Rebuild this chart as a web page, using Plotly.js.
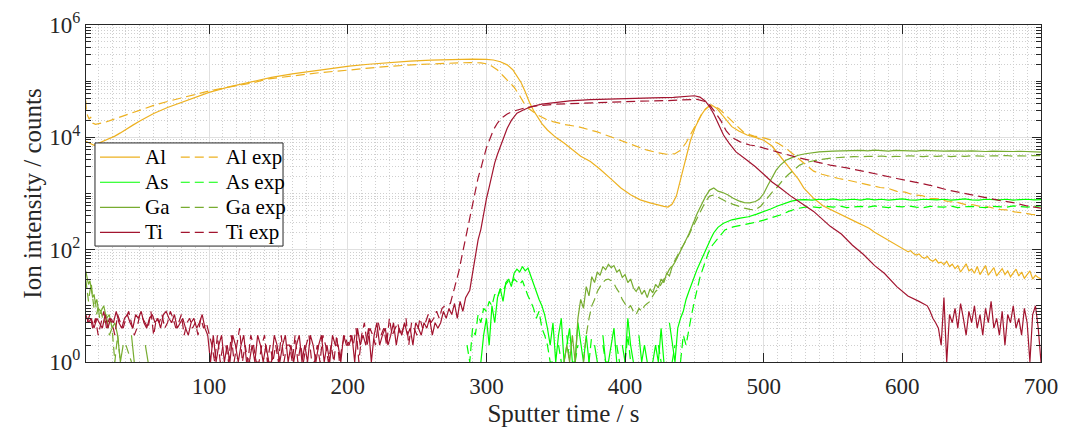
<!DOCTYPE html>
<html><head><meta charset="utf-8">
<script src="https://cdn.plot.ly/plotly-3.0.1.min.js"></script>
<style>html,body{margin:0;padding:0;background:#fff}#chart{width:1072px;height:430px}</style>
</head><body><div id="chart"></div>
<script>
// regular sampling grid for the stretches read at 2 s / 5 s steps
function grid(t0, dt, n) { var a = []; for (var i = 0; i < n; i++) a.push(+(t0 + i * dt).toFixed(2)); return a; }

// ---------- Al ----------
var alT = [11,13,15,17,19,22,25,28,32,36,40,45,50,55,60,70,80,90,100,115,130,145,160,175,190,201,215,230,245,260,275,290,300,305,310,315,319,322,325,328,331,334,337,340,344,350,356,362,368,375,382,390,397,404,411,418,424,428,431,434,437,440,443,447,451,455,458,462,466,469,473,477,482,488,494,500,506,512,516,520,525,529,536,543,548,552,556,560,564,568,572,576,580,584,588,592,596];
var alV = [8500,8000,7500,7200,7600,8200,8700,9400,10500,12000,14000,16500,19500,23000,26500,34000,42000,52000,63000,80000,98000,117000,135000,152000,170000,185000,200000,215000,228000,237000,243000,246000,245000,238000,222000,195000,160000,125000,95000,65000,42000,30000,23000,17500,13500,10000,7900,6000,4600,3700,2700,1800,1250,950,770,680,620,590,575,650,900,1740,3500,8500,16000,25000,32000,38000,33000,27000,20000,15500,13000,11000,10000,8900,7000,4600,3400,2600,1800,1250,820,600,520,460,410,365,330,300,270,240,205,180,155,135,118];
var alTailT0 = 600, alTailStep = 2;
var alTailV = [105,98,92,96,85,80,84,74,70,76,66,62,68,58,60,54,62,50,55,46,52,40,48,56,42,45,38,50,36,44,52,35,42,48,34,40,46,36,42,33,38,45,34,40,31,36,42,30,35,32,30];

var alExpT = [11,11.5,12.5,13.5,14.5,16,18,21,25,30,40,50,60,70,80,90,100,115,130,143,160,180,201,225,250,270,288,296,300,304,308,312,316,320,324,327,331,337,343,348,356,366,380,392,404,416,424,430,436,440,444,448,452,456,460,464,468,474,480,486,493,500,505,510,516,520,524,530,536,542,548,554,560,566,572,578,584,590,596,602,608,614,620,626,633,639,645,651,657,663,669,675,681,687,693,700];
var alExpV = [45000,28000,24000,21000,23000,18000,17000,17500,18500,20500,25000,30500,37000,43500,50500,58500,67000,79000,92000,110000,125000,142000,158000,180000,198000,208000,215000,212000,204000,185000,158000,125000,100000,78000,55000,41000,32000,25000,21000,19000,17000,15500,12500,9700,7600,5900,5300,5000,5100,5900,8000,12000,19000,28000,35000,36500,32000,23000,16000,12000,10500,9800,9000,7900,6400,5300,4500,3300,2500,2200,2000,1850,1740,1600,1480,1380,1280,1230,1090,1060,940,920,820,800,720,700,640,630,580,570,520,510,470,455,425,410];

// ---------- As ----------
var asHumpT0 = 296, asHumpStep = 2;
var asHumpV = [1,3,6,2,10,5,14,20,12,26,30,22,38,45,40,50,42,47,34,24,18,13,10,7,4,2];
var asLowT0 = 348, asLowStep = 2;
var asLowV = [5,1,3,6,1,2,4,1,1,5,2,1,3,1,0,2,1,0,3,1,1,2,4,1,0,2,1,6,2,1,0,3,1,2,1,0,1,2,1,4,1,0,5,2,1,4,6];
var asRiseT = [442,444,446,448,450,452,454,456,458,460,462,464,467,471,477,483,489,495,500,505,510,515,520,525];
var asRiseV = [8,13,18,25,33,45,58,75,100,125,160,200,250,295,340,365,385,430,470,530,600,670,730,770];
var asFlatT0 = 530, asFlatStep = 5;
var asFlatV = [780,760,790,770,800,760,780,790,760,800,770,790,760,780,800,770,760,790,780,770,790,760,780,800,770,760,790,780,770,790,760,780,790,770,780];

var asExpHumpT0 = 286, asExpHumpStep = 2;
var asExpHumpV = [2,1,4,3,7,5,9,8,12,10,16,14,20,18,24,28,25,30,27,24,28,20,15,12,9,6,8,4,3,2,1];
var asExpLowT0 = 348, asExpLowStep = 2;
var asExpLowV = [1,0,2,1,0,3,1,0,1,2,0,1,0,1,3,0,1,0,2,1,0,1,0,2,1,0,1,3,1,0,1,0,2,0,1,0,1,0,2,1,0,1,0,1,2,0,1,3,2];
var asExpRiseT = [446,448,450,452,454,456,458,460,463,467,472,478,485,492,500,506,512,518,524,530];
var asExpRiseV = [4,7,12,20,32,45,65,87,120,160,225,255,275,300,335,370,415,480,540,570];
var asExpFlatT0 = 535, asExpFlatStep = 5;
var asExpFlatV = [580,560,590,570,600,560,580,590,570,600,580,560,590,580,600,570,560,590,580,570,600,560,580,590,570,560,590,580,570,600,580,570,590,600];

// ---------- Ga ----------
var gaStartT = [11,12,13,14,15,16,17,18,19,20,22,24,26,28,30,32,34,36,38,40,42,44,46,48,50,52,54,56,58,60];
var gaStartV = [42,30,24,28,18,14,16,11,13,9,8,10,6,7,4,5,3,1,2,0,0,3,1,0,0,0,2,1,0,0];
var gaMidT0 = 356, gaMidStep = 2;
var gaMidV = [1,2,1,3,1,6,13,9,22,15,33,26,40,35,50,44,55,48,52,40,44,32,36,26,30,21,18,22,16,19,14,20,17,24,21,30,26,38,34,50,60,75,90,120,150,190,260,330,440];
var gaUpT = [455,458,461,464,467,470,474,478,482,486,490,494,497,500,503,506,509,512,516,520,525,530,540,550];
var gaUpV = [620,880,1150,1250,1100,1050,950,820,740,690,680,720,800,1000,1400,1900,2600,3200,3900,4300,4800,5100,5500,5700];
var gaFlatT0 = 555, gaFlatStep = 5;
var gaFlatV = [5750,5800,5700,5850,5750,5900,5800,5700,5850,5750,5800,5700,5850,5750,5800,5700,5750,5650,5700,5750,5650,5600,5700,5650,5550,5600,5650,5550,5500,5450];

var gaExpStartT = [11,12,13,14,15,16,17,18,19,20,21,22,24,26,28,30,32,34,36,38,40,44,48,52,56,60];
var gaExpStartV = [30,20,12,18,25,14,9,12,7,10,6,8,5,7,3,4,1,3,1,0,2,1,0,0,1,0];
var gaExpMidT0 = 370, gaExpMidStep = 2;
var gaExpMidV = [1,3,6,10,13,18,22,26,29,30,28,25,20,17,13,11,9,10,8,7,9,8,10,11,12,15,18,20,24,30,36,45,52,65,82,100,120,145,180,230,290,360];
var gaExpUpT = [455,458,461,464,467,470,474,478,482,486,490,494,498,502,506,510,514,518,522,526,530,535,540,550,560];
var gaExpUpV = [520,720,900,940,860,780,700,640,590,550,520,510,600,800,1050,1320,1750,2200,2700,3200,3550,3800,4000,4300,4500];
var gaExpFlatT0 = 565, gaExpFlatStep = 5;
var gaExpFlatV = [4550,4500,4600,4550,4650,4500,4600,4550,4700,4600,4550,4650,4600,4700,4550,4650,4600,4700,4650,4600,4700,4650,4750,4600,4700,4650,4750,4700];

// ---------- Ti ----------
var tiLowT0 = 11, tiLowStep = 2;
var tiLowV = [7,5,6,4,6,5,4,7,4,6, 5,8,5,4,6,7,5,4,7,6, 8,5,4,6,7,5,6,4,7,8, 6,5,7,4,5,6,4,3,5,6, 4,5,7,4,3,
  1,3,1,2,3,1,2,1,3,2, 1,2,3,1,1,2,1,3,2,1, 2,1,1,3,2,1,2,3,1,2, 1,2,3,1,2,1,3,2,1,2, 3,1,2,1,3,2,2,1,3,2,
  2,3,1,4,2,3,2,4,1,3, 5,2,3,4,2,3,5,2,4,3, 5,3,4,2,5,4,3,5,4,6, 3,5,4,5,8,6,9,7,11,6, 12,8];
var tiMainT = [285,288,290,292,294,296,298,300,302,304,306,308,310,312,315,318,322,327,332,340,350,360,375,390,405,420,435,445,450,454,458,461,464,467,471,475,480,488,494,500,506,512,520,528,536,548,556,564,572,580,587,596,604,612,618];
var tiMainV = [14,19,40,87,150,230,450,800,1300,2200,3500,5000,6800,9500,14500,20000,27000,31000,35000,39000,42000,44500,47000,48500,49500,50500,51500,53000,55000,52000,44000,35000,26000,18000,11000,7900,5500,3900,3000,2200,1600,1250,880,650,480,260,190,120,82,52,38,22,15,12,10];
var tiTailT0 = 620, tiTailStep = 2;
var tiTailV = [8,6,5,4,2,14,1,7,5,9, 4,11,6,3,8,5,10,4,7,3, 9,5,12,4,6,3,8,2,7,5, 10,4,6,3,9,5,1,7,10,4, 1];

var tiExpLowT0 = 12, tiExpLowStep = 2;
var tiExpLowV = [5,7,4,6,3,5,8,4,6,5, 3,7,5,4,6,8,5,3,4,7, 6,5,4,8,3,6,5,7,4,5, 8,6,4,5,7,3,5,6,4,5, 3,6,4,5,3,
  2,1,3,1,2,2,1,3,1,2, 4,1,2,1,3,2,1,1,2,3, 1,2,1,2,1,3,1,2,2,1, 3,1,2,1,2,3,1,1,2,1, 3,2,1,2,1,3,1,2,3,2,
  3,2,4,1,3,5,2,4,3,2, 5,3,4,2,6,3,4,5,3,4, 6,2,5,4,3,6,4,5,7,5, 6,8,6,9];
var tiExpMainT = [270,274,277,280,282,284,286,288,290,292,294,296,298,300,303,305,308,311,315,319,325,335,350,370,390,410,430,445,452,457,461,465,469,473,477,483,490,495,502,512,524,536,548,560,572,584,596,608,620,633,645,657,669,681,690,700];
var tiExpMainV = [10,11,20,40,70,120,220,380,700,1200,1900,2800,4300,6500,10000,13500,18000,22000,26000,29000,32000,36000,39000,41000,43000,44000,45000,46500,47500,44000,37600,28000,20000,13000,10000,8300,7300,7000,6200,5300,4400,3700,3200,2850,2500,2150,1850,1620,1400,1150,1000,880,760,680,600,550];

// ---------- assemble ----------
function cat() { var o = []; for (var i = 0; i < arguments.length; i++) o = o.concat(arguments[i]); return o; }
function nz(v) { return v.map(function (x) { return x > 0 ? x : null; }); }

var al = {t: cat(alT, grid(alTailT0, alTailStep, alTailV.length)), v: cat(alV, alTailV)};
var alExp = {t: alExpT, v: alExpV};
var as_ = {t: cat(grid(asHumpT0, asHumpStep, asHumpV.length), grid(asLowT0, asLowStep, asLowV.length), asRiseT, grid(asFlatT0, asFlatStep, asFlatV.length)),
           v: cat(asHumpV, asLowV, asRiseV, asFlatV)};
var asExp = {t: cat(grid(asExpHumpT0, asExpHumpStep, asExpHumpV.length), grid(asExpLowT0, asExpLowStep, asExpLowV.length), asExpRiseT, grid(asExpFlatT0, asExpFlatStep, asExpFlatV.length)),
           v: cat(asExpHumpV, asExpLowV, asExpRiseV, asExpFlatV)};
var ga = {t: cat(gaStartT, grid(gaMidT0, gaMidStep, gaMidV.length), gaUpT, grid(gaFlatT0, gaFlatStep, gaFlatV.length)),
          v: cat(gaStartV, gaMidV, gaUpV, gaFlatV)};
var gaExp = {t: cat(gaExpStartT, grid(gaExpMidT0, gaExpMidStep, gaExpMidV.length), gaExpUpT, grid(gaExpFlatT0, gaExpFlatStep, gaExpFlatV.length)),
          v: cat(gaExpStartV, gaExpMidV, gaExpUpV, gaExpFlatV)};
var ti = {t: cat(grid(tiLowT0, tiLowStep, tiLowV.length), tiMainT, grid(tiTailT0, tiTailStep, tiTailV.length)), v: cat(tiLowV, tiMainV, tiTailV)};
var tiExp = {t: cat(grid(tiExpLowT0, tiExpLowStep, tiExpLowV.length), tiExpMainT), v: cat(tiExpLowV, tiExpMainV)};

var names = ['Al', 'As', 'Ga', 'Ti'];
var colors = ['#EDB120', '#00FF00', '#77AC30', '#A2142F'];
var solid = [al, as_, ga, ti];
var exper = [alExp, asExp, gaExp, tiExp];

var xTickVals = [100, 200, 300, 400, 500, 600, 700];
var yTickVals = [1, 100, 10000, 1000000];
var yTickText = ['10<sup>0</sup>', '10<sup>2</sup>', '10<sup>4</sup>', '10<sup>6</sup>'];

function legendName(s) { return '<span style="font-size:21px">' + s + '</span>'; }

var traces = [];
for (var k = 0; k < 4; k++) {
  traces.push({x: solid[k].t, y: nz(solid[k].v), name: legendName(names[k]), type: 'scatter', mode: 'lines',
    line: {color: colors[k], width: 1.2}, legend: 'legend', hoverinfo: 'skip'});
  traces.push({x: exper[k].t, y: nz(exper[k].v), name: legendName(names[k] + ' exp'), type: 'scatter', mode: 'lines',
    line: {color: colors[k], width: 1.2, dash: '9px,5px'}, legend: 'legend2', hoverinfo: 'skip'});
}

var axisColor = '#262626';
var fontFam = 'Liberation Serif, Times New Roman, serif';
var minorGrid = '#cfcfcf';
var layout = {
  width: 1072, height: 430,
  margin: {l: 86, r: 31, t: 25, b: 68, pad: 0},
  paper_bgcolor: '#ffffff', plot_bgcolor: '#ffffff',
  font: {family: fontFam, color: axisColor, size: 20},
  showlegend: true,
  xaxis: {
    range: [11.2, 700], tickmode: 'array', tickvals: xTickVals,
    ticks: 'inside', ticklen: 9, tickwidth: 1, tickcolor: axisColor, ticklabelstandoff: 3,
    showline: true, linecolor: axisColor, linewidth: 1, mirror: 'ticks',
    showgrid: true, gridcolor: '#e0e0e0', gridwidth: 1, zeroline: false,
    minor: {dtick: 10, tick0: 0, showgrid: true, gridcolor: minorGrid, griddash: '1px,2px', gridwidth: 1, ticks: ''},
    tickfont: {size: 23, family: fontFam, color: axisColor},
    title: {text: 'Sputter time / s', font: {size: 25, family: fontFam, color: axisColor}, standoff: 6}
  },
  yaxis: {
    type: 'log', range: [0, 6], tickmode: 'array', tickvals: yTickVals, ticktext: yTickText,
    ticks: 'inside', ticklen: 9, tickwidth: 1, tickcolor: axisColor,
    showline: true, linecolor: axisColor, linewidth: 1, mirror: 'ticks',
    showgrid: true, gridcolor: '#e0e0e0', gridwidth: 1, zeroline: false,
    minor: {dtick: 'D1', showgrid: true, gridcolor: minorGrid, griddash: '1px,2px', gridwidth: 1, ticks: 'inside', ticklen: 5, tickcolor: axisColor},
    tickfont: {size: 23, family: fontFam, color: axisColor},
    title: {text: 'Ion intensity / counts', font: {size: 25, family: fontFam, color: axisColor}, standoff: 0}
  },
  legend: {x: 0.0094, y: 0.66, xanchor: 'left', yanchor: 'top', bgcolor: 'rgba(0,0,0,0)', borderwidth: 0,
    font: {size: 17, family: fontFam, color: '#000'}, itemwidth: 40, tracegroupgap: 0},
  legend2: {x: 0.094, y: 0.66, xanchor: 'left', yanchor: 'top', bgcolor: 'rgba(0,0,0,0)', borderwidth: 0,
    font: {size: 17, family: fontFam, color: '#000'}, itemwidth: 40, tracegroupgap: 0},
  shapes: [{type: 'rect', xref: 'paper', yref: 'paper', x0: 0.0094, x1: 0.2063, y0: 0.344, y1: 0.650,
    fillcolor: '#ffffff', line: {color: axisColor, width: 1}, layer: 'above'}]
};

Plotly.newPlot('chart', traces, layout, {staticPlot: true, displayModeBar: false});
</script>
</body></html>
